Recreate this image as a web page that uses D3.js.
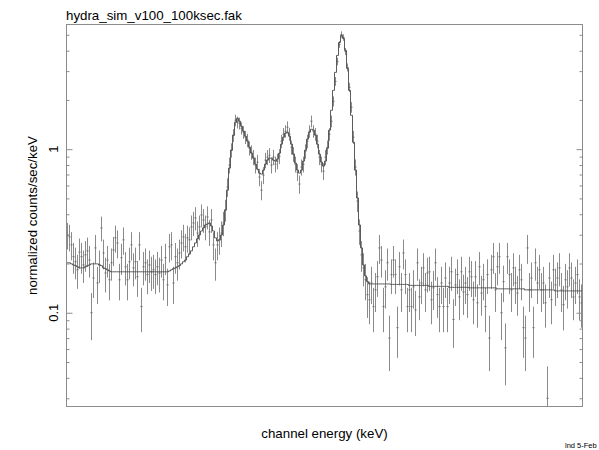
<!DOCTYPE html>
<html>
<head>
<meta charset="utf-8">
<script src="https://cdn.jsdelivr.net/npm/d3@7"></script>
<style>
  html, body { margin: 0; padding: 0; background: #fff; }
  svg { display: block; font-family: "Liberation Sans", Arial, Helvetica, sans-serif; }
</style>
</head>
<body>
<svg id="chart" width="599" height="450"></svg>
<script>
// ---------------- data ----------------
const title = "hydra_sim_v100_100ksec.fak";
const xLabel = "channel energy (keV)";
const yLabel = "normalized counts/sec/keV";
const footer = "lnd 5-Feb";

const yMajorTicks = [0.1, 1];
const yMajorLabels = ["0.1", "1"];
const yMinorTicks = [0.03, 0.04, 0.05, 0.06, 0.07, 0.08, 0.09,
                     0.2, 0.3, 0.4, 0.5, 0.6, 0.7, 0.8, 0.9, 2, 3, 4, 5];

// measured rate per channel (normalized counts/sec/keV)
const rate = [
  0.299,0.291,0.260,0.220,0.205,0.183,0.235,0.220,0.196,0.226,
  0.239,0.210,0.100,0.163,0.249,0.152,0.196,0.330,0.232,0.175,
  0.210,0.159,0.202,0.242,0.287,0.267,0.159,0.217,0.279,0.191,
  0.159,0.205,0.260,0.188,0.205,0.166,0.260,0.109,0.191,0.202,
  0.171,0.196,0.178,0.183,0.171,0.191,0.175,0.210,0.159,0.217,
  0.148,0.253,0.260,0.152,0.220,0.202,0.232,0.267,0.291,0.253,
  0.287,0.279,0.335,0.354,0.380,0.307,0.335,0.396,0.369,0.335,
  0.385,0.312,0.369,0.260,0.202,0.260,0.279,0.307,0.354,0.425,
  0.587,0.799,0.986,1.217,1.503,1.461,1.440,1.343,1.270,1.184,
  1.135,1.014,0.959,0.894,0.799,0.833,0.675,0.562,0.694,0.857,
  0.894,0.919,0.799,0.894,0.810,0.845,0.906,1.119,1.235,1.288,
  1.362,1.235,1.028,0.932,0.810,0.724,0.612,0.777,0.810,0.972,
  1.119,1.288,1.482,1.288,1.235,1.119,0.894,0.810,0.734,0.894,
  1.028,1.235,1.482,1.962,2.598,3.440,4.368,5.025,4.818,3.959,
  3.162,2.388,1.804,1.184,0.777,0.482,0.316,0.226,0.188,0.159,
  0.129,0.120,0.152,0.109,0.138,0.166,0.249,0.210,0.109,0.144,
  0.202,0.070,0.171,0.210,0.171,0.081,0.191,0.138,0.232,0.171,
  0.109,0.138,0.109,0.144,0.104,0.202,0.125,0.152,0.188,0.138,
  0.175,0.178,0.120,0.142,0.202,0.129,0.109,0.152,0.109,0.163,
  0.109,0.152,0.178,0.091,0.148,0.171,0.125,0.178,0.134,0.152,
  0.129,0.178,0.166,0.120,0.166,0.115,0.191,0.132,0.159,0.109,
  0.171,0.070,0.183,0.220,0.138,0.191,0.220,0.100,0.155,0.061,
  0.220,0.171,0.138,0.188,0.152,0.132,0.183,0.159,0.081,0.070,
  0.249,0.138,0.163,0.081,0.202,0.152,0.183,0.138,0.152,0.115,
  0.030,0.163,0.120,0.183,0.148,0.163,0.188,0.138,0.112,0.159,
  0.144,0.188,0.163,0.125,0.152,0.171,0.125,0.115
];

// 1-sigma uncertainty per channel
const rateErr = [
  0.055,0.054,0.051,0.047,0.045,0.043,0.049,0.047,0.044,0.048,
  0.049,0.046,0.032,0.040,0.050,0.039,0.044,0.057,0.048,0.042,
  0.046,0.040,0.045,0.049,0.054,0.052,0.040,0.047,0.053,0.044,
  0.040,0.045,0.051,0.043,0.045,0.041,0.051,0.033,0.044,0.045,
  0.041,0.044,0.042,0.043,0.041,0.044,0.042,0.046,0.040,0.047,
  0.038,0.050,0.051,0.039,0.047,0.045,0.048,0.052,0.054,0.050,
  0.054,0.053,0.058,0.060,0.062,0.055,0.058,0.063,0.061,0.058,
  0.062,0.056,0.061,0.051,0.045,0.051,0.053,0.055,0.060,0.065,
  0.077,0.089,0.099,0.110,0.123,0.121,0.120,0.116,0.113,0.109,
  0.107,0.101,0.098,0.095,0.089,0.091,0.082,0.075,0.083,0.093,
  0.095,0.096,0.089,0.095,0.090,0.092,0.095,0.106,0.111,0.113,
  0.117,0.111,0.101,0.097,0.090,0.085,0.078,0.088,0.090,0.099,
  0.106,0.113,0.122,0.113,0.111,0.106,0.095,0.090,0.086,0.095,
  0.101,0.111,0.122,0.140,0.161,0.186,0.209,0.224,0.220,0.199,
  0.178,0.155,0.134,0.109,0.088,0.069,0.056,0.048,0.043,0.040,
  0.036,0.035,0.039,0.033,0.037,0.041,0.050,0.046,0.033,0.038,
  0.045,0.026,0.041,0.046,0.041,0.028,0.044,0.037,0.048,0.041,
  0.033,0.037,0.033,0.038,0.032,0.045,0.035,0.039,0.043,0.037,
  0.042,0.042,0.035,0.038,0.045,0.036,0.033,0.039,0.033,0.040,
  0.033,0.039,0.042,0.030,0.038,0.041,0.035,0.042,0.037,0.039,
  0.036,0.042,0.041,0.035,0.041,0.034,0.044,0.036,0.040,0.033,
  0.041,0.026,0.043,0.047,0.037,0.044,0.047,0.032,0.039,0.025,
  0.047,0.041,0.037,0.043,0.039,0.036,0.043,0.040,0.028,0.026,
  0.050,0.037,0.040,0.028,0.045,0.039,0.043,0.037,0.039,0.034,
  0.017,0.040,0.035,0.043,0.038,0.040,0.043,0.037,0.034,0.040,
  0.038,0.043,0.040,0.035,0.039,0.041,0.035,0.034
];

// folded model per channel
const model = [
  0.202,0.202,0.199,0.196,0.194,0.191,0.188,0.188,0.188,0.191,
  0.194,0.196,0.199,0.199,0.199,0.199,0.196,0.194,0.188,0.186,
  0.183,0.180,0.178,0.178,0.178,0.178,0.178,0.178,0.178,0.178,
  0.178,0.178,0.178,0.178,0.178,0.178,0.178,0.178,0.178,0.178,
  0.178,0.178,0.178,0.178,0.178,0.178,0.178,0.178,0.178,0.178,
  0.178,0.180,0.183,0.186,0.188,0.191,0.194,0.199,0.205,0.210,
  0.220,0.229,0.239,0.253,0.267,0.283,0.299,0.316,0.330,0.344,
  0.349,0.354,0.339,0.316,0.287,0.275,0.279,0.299,0.344,0.425,
  0.562,0.766,0.986,1.217,1.461,1.545,1.482,1.381,1.288,1.200,
  1.119,1.028,0.945,0.881,0.810,0.755,0.714,0.704,0.745,0.810,
  0.857,0.881,0.881,0.857,0.845,0.869,0.945,1.073,1.184,1.252,
  1.270,1.200,1.073,0.932,0.822,0.745,0.714,0.745,0.845,0.986,
  1.151,1.270,1.324,1.306,1.217,1.073,0.932,0.833,0.788,0.845,
  1.014,1.306,1.729,2.289,2.948,3.743,4.492,4.956,4.752,4.016,
  3.118,2.289,1.612,1.103,0.745,0.503,0.344,0.249,0.196,0.168,
  0.155,0.150,0.150,0.150,0.150,0.150,0.150,0.150,0.150,0.150,
  0.150,0.150,0.149,0.149,0.149,0.149,0.149,0.149,0.149,0.149,
  0.149,0.147,0.147,0.147,0.147,0.147,0.147,0.147,0.147,0.147,
  0.147,0.145,0.145,0.145,0.145,0.145,0.145,0.145,0.145,0.145,
  0.145,0.143,0.143,0.143,0.143,0.143,0.143,0.143,0.143,0.143,
  0.143,0.142,0.142,0.142,0.142,0.142,0.142,0.142,0.142,0.142,
  0.142,0.142,0.142,0.142,0.142,0.140,0.140,0.140,0.140,0.140,
  0.140,0.140,0.140,0.140,0.140,0.140,0.140,0.140,0.140,0.138,
  0.138,0.138,0.138,0.138,0.138,0.138,0.138,0.138,0.138,0.138,
  0.138,0.138,0.138,0.138,0.136,0.136,0.136,0.136,0.136,0.136,
  0.136,0.136,0.136,0.136,0.136,0.136,0.136,0.136
];

// ---------------- layout ----------------
const W = 599, H = 450;
const plot = { left: 66.5, right: 582.5, top: 24.5, bottom: 406.5 };
const N = rate.length;
const channels = rate.map((_, i) => i);

const svg = d3.select("#chart");

const x = d3.scaleLinear().domain([0, N]).range([plot.left, plot.right]);
const y = d3.scaleLog().domain([0.02672, 5.783]).range([plot.bottom, plot.top]);

const frameColor = "#8c8c8c";
const dataColor = "#8a8a8a";
const modelColor = "#4a4a4a";

// clip region
svg.append("defs").append("clipPath").attr("id", "plotclip")
  .append("rect")
  .attr("x", plot.left).attr("y", plot.top)
  .attr("width", plot.right - plot.left).attr("height", plot.bottom - plot.top);

// ticks (inward) on left and right
function tickAxis(gen, xpos, values, size) {
  const g = svg.append("g")
    .attr("transform", `translate(${xpos},0)`)
    .call(gen(y).tickValues(values).tickSize(size).tickFormat(""));
  g.select(".domain").remove();
  g.selectAll(".tick line").attr("stroke", frameColor).attr("stroke-width", 1);
}
tickAxis(d3.axisRight, plot.left, yMajorTicks, 6);
tickAxis(d3.axisRight, plot.left, yMinorTicks, 3);
tickAxis(d3.axisLeft, plot.right, yMajorTicks, 6);
tickAxis(d3.axisLeft, plot.right, yMinorTicks, 3);

// data + model
const gData = svg.append("g").attr("clip-path", "url(#plotclip)");

gData.selectAll("line.err")
  .data(channels)
  .join("line")
  .attr("class", "err")
  .attr("x1", i => x(i + 0.5)).attr("x2", i => x(i + 0.5))
  .attr("y1", i => y(rate[i] + rateErr[i]))
  .attr("y2", i => {
    const lo = rate[i] - rateErr[i];
    return lo > 0.02672 ? y(lo) : plot.bottom + 5;
  })
  .attr("stroke", dataColor)
  .attr("stroke-width", 1);

gData.selectAll("line.pt")
  .data(channels)
  .join("line")
  .attr("class", "pt")
  .attr("x1", i => x(i)).attr("x2", i => x(i + 1))
  .attr("y1", i => y(rate[i])).attr("y2", i => y(rate[i]))
  .attr("stroke", "#6a6a6a")
  .attr("stroke-width", 1);

const stepPts = channels.map(i => [i, model[i]]).concat([[N, model[N - 1]]]);
gData.append("path")
  .datum(stepPts)
  .attr("fill", "none")
  .attr("stroke", modelColor)
  .attr("stroke-width", 0.9)
  .attr("d", d3.line().x(d => x(d[0])).y(d => y(d[1])).curve(d3.curveStepAfter));

// frame
svg.append("rect")
  .attr("x", plot.left).attr("y", plot.top)
  .attr("width", plot.right - plot.left).attr("height", plot.bottom - plot.top)
  .attr("fill", "none").attr("stroke", frameColor).attr("stroke-width", 1);

// y tick labels (rotated)
yMajorTicks.forEach((v, k) => {
  svg.append("text")
    .attr("transform", `translate(58,${y(v)}) rotate(-90)`)
    .attr("text-anchor", "middle")
    .attr("font-size", 13)
    .attr("fill", "#000")
    .text(yMajorLabels[k]);
});

// title
svg.append("text")
  .attr("x", 66).attr("y", 20)
  .attr("font-size", 13.3)
  .attr("fill", "#000")
  .text(title);

// axis labels
svg.append("text")
  .attr("x", (plot.left + plot.right) / 2).attr("y", 438)
  .attr("text-anchor", "middle")
  .attr("font-size", 13.3)
  .attr("fill", "#000")
  .text(xLabel);

svg.append("text")
  .attr("transform", `translate(37,${(plot.top + plot.bottom) / 2}) rotate(-90)`)
  .attr("text-anchor", "middle")
  .attr("font-size", 13.3)
  .attr("fill", "#000")
  .text(yLabel);

// footer stamp
svg.append("text")
  .attr("x", 565).attr("y", 448)
  .attr("font-size", 7.5)
  .attr("fill", "#000")
  .text(footer);
</script>
</body>
</html>
